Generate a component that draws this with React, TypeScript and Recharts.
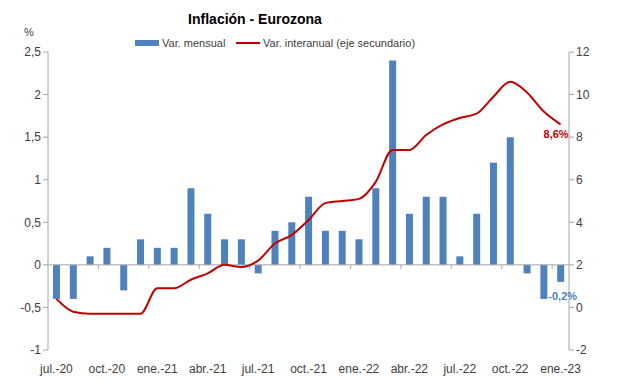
import React from 'react';
import {
  ComposedChart,
  Bar,
  Line,
  XAxis,
  YAxis,
  ReferenceLine,
  LabelList,
} from 'recharts';

// Meses (jul.-20 a ene.-23)
const months = [
  'jul.-20', 'ago.-20', 'sep.-20', 'oct.-20', 'nov.-20', 'dic.-20',
  'ene.-21', 'feb.-21', 'mar.-21', 'abr.-21', 'may.-21', 'jun.-21',
  'jul.-21', 'ago.-21', 'sep.-21', 'oct.-21', 'nov.-21', 'dic.-21',
  'ene.-22', 'feb.-22', 'mar.-22', 'abr.-22', 'may.-22', 'jun.-22',
  'jul.-22', 'ago.-22', 'sep.-22', 'oct.-22', 'nov.-22', 'dic.-22',
  'ene.-23',
];

// Var. mensual (%)
const monthly = [
  -0.4, -0.4, 0.1, 0.2, -0.3, 0.3,
  0.2, 0.2, 0.9, 0.6, 0.3, 0.3,
  -0.1, 0.4, 0.5, 0.8, 0.4, 0.4,
  0.3, 0.9, 2.4, 0.6, 0.8, 0.8,
  0.1, 0.6, 1.2, 1.5, -0.1, -0.4,
  -0.2,
];

// Var. interanual (%), eje secundario
const yearly = [
  0.4, -0.2, -0.3, -0.3, -0.3, -0.3,
  0.9, 0.9, 1.3, 1.6, 2.0, 1.9,
  2.2, 3.0, 3.4, 4.1, 4.9, 5.0,
  5.1, 5.9, 7.4, 7.4, 8.1, 8.6,
  8.9, 9.1, 9.9, 10.6, 10.1, 9.2,
  8.6,
];

const leftTicks = [-1, -0.5, 0, 0.5, 1, 1.5, 2, 2.5];
const rightTicks = [-2, 0, 2, 4, 6, 8, 10, 12];

const data = months.map((m, i) => ({
  month: m,
  mensual: monthly[i],
  interanual: yearly[i],
}));

const FONT = '"Liberation Sans", Arial, sans-serif';
const BLUE = '#4F81BD';
const RED = '#C00000';
const AXIS = '#A6A6A6';
const TEXT = '#404040';

const fmt = (v: number) => String(v).replace('.', ',');
const last = data.length - 1;

// zero line with small tick marks every three months
const ZeroLine = (props: any) => {
  const { x1, x2, y1 } = props;
  if (x1 == null) return null;
  const step = (x2 - x1) / data.length;
  const marks = [];
  for (let k = 3; k < data.length; k += 3) {
    const x = x1 + k * step;
    marks.push(<line key={k} x1={x} x2={x} y1={y1} y2={y1 + 4} stroke={AXIS} />);
  }
  return (
    <g>
      <line x1={x1} x2={x2} y1={y1} y2={y1} stroke={AXIS} />
      {marks}
    </g>
  );
};

const LineEndLabel = (props: any) => {
  const { x, y, index, value } = props;
  if (index !== last) return null;
  return (
    <text x={x + 8} y={y + 10} textAnchor="end" fill={RED} fontSize={11} fontWeight="bold" fontFamily={FONT} dominantBaseline="central">
      {fmt(value)}%
    </text>
  );
};

const BarEndLabel = (props: any) => {
  const { x, y, width, height, index, value } = props;
  if (index !== last) return null;
  const bottom = Math.max(y, y + height);
  return (
    <text x={x + width / 2 + 2} y={bottom + 14} textAnchor="middle" fill={BLUE} fontSize={11} fontWeight="bold" fontFamily={FONT} dominantBaseline="central">
      {fmt(value)}%
    </text>
  );
};

export default function App() {
  return (
    <div style={{ position: 'absolute', left: 0, top: 0, width: 617, height: 388, background: '#fff', fontFamily: FONT }}>
      <div style={{ position: 'absolute', left: 255, top: 11, transform: 'translateX(-50%)', fontSize: 14, fontWeight: 'bold', color: '#000', whiteSpace: 'nowrap' }}>
        Inflación - Eurozona
      </div>
      <div style={{ position: 'absolute', left: 24, top: 26, fontSize: 11, color: TEXT }}>%</div>
      <div style={{ position: 'absolute', left: 135, top: 37, fontSize: 11, color: TEXT, display: 'flex', alignItems: 'center', whiteSpace: 'nowrap' }}>
        <span style={{ display: 'inline-block', width: 24, height: 6, background: BLUE, marginRight: 3 }} />
        <span>Var. mensual</span>
      </div>
      <div style={{ position: 'absolute', left: 236, top: 37, fontSize: 11, color: TEXT, display: 'flex', alignItems: 'center', whiteSpace: 'nowrap' }}>
        <span style={{ display: 'inline-block', width: 24, height: 2, background: RED, marginRight: 3 }} />
        <span>Var. interanual (eje secundario)</span>
      </div>
      <ComposedChart
        width={617}
        height={388}
        data={data}
        margin={{ top: 52, right: 8, bottom: 8, left: 8 }}
      >
        <XAxis
          dataKey="month"
          axisLine={false}
          tickLine={false}
          interval={2}
          height={30}
          tickMargin={8}
          tick={{ fill: TEXT, fontSize: 12, fontFamily: FONT }}
        />
        <YAxis
          yAxisId="left"
          orientation="left"
          domain={[-1, 2.5]}
          ticks={leftTicks}
          width={40}
          axisLine={{ stroke: AXIS }}
          tickLine={{ stroke: AXIS }}
          tickSize={5}
          tickFormatter={fmt}
          tick={{ fill: TEXT, fontSize: 12, fontFamily: FONT }}
        />
        <YAxis
          yAxisId="right"
          orientation="right"
          domain={[-2, 12]}
          ticks={rightTicks}
          width={40}
          axisLine={{ stroke: AXIS }}
          tickLine={{ stroke: AXIS }}
          tickSize={5}
          tickFormatter={fmt}
          tick={{ fill: TEXT, fontSize: 12, fontFamily: FONT }}
        />
        <ReferenceLine yAxisId="left" y={0} shape={ZeroLine} />
        <Bar yAxisId="left" dataKey="mensual" fill={BLUE} barSize={7} isAnimationActive={false}>
          <LabelList dataKey="mensual" content={BarEndLabel} />
        </Bar>
        <Line
          yAxisId="right"
          dataKey="interanual"
          type="monotone"
          stroke={RED}
          strokeWidth={2}
          dot={false}
          isAnimationActive={false}
        >
          <LabelList dataKey="interanual" content={LineEndLabel} />
        </Line>
      </ComposedChart>
    </div>
  );
}
